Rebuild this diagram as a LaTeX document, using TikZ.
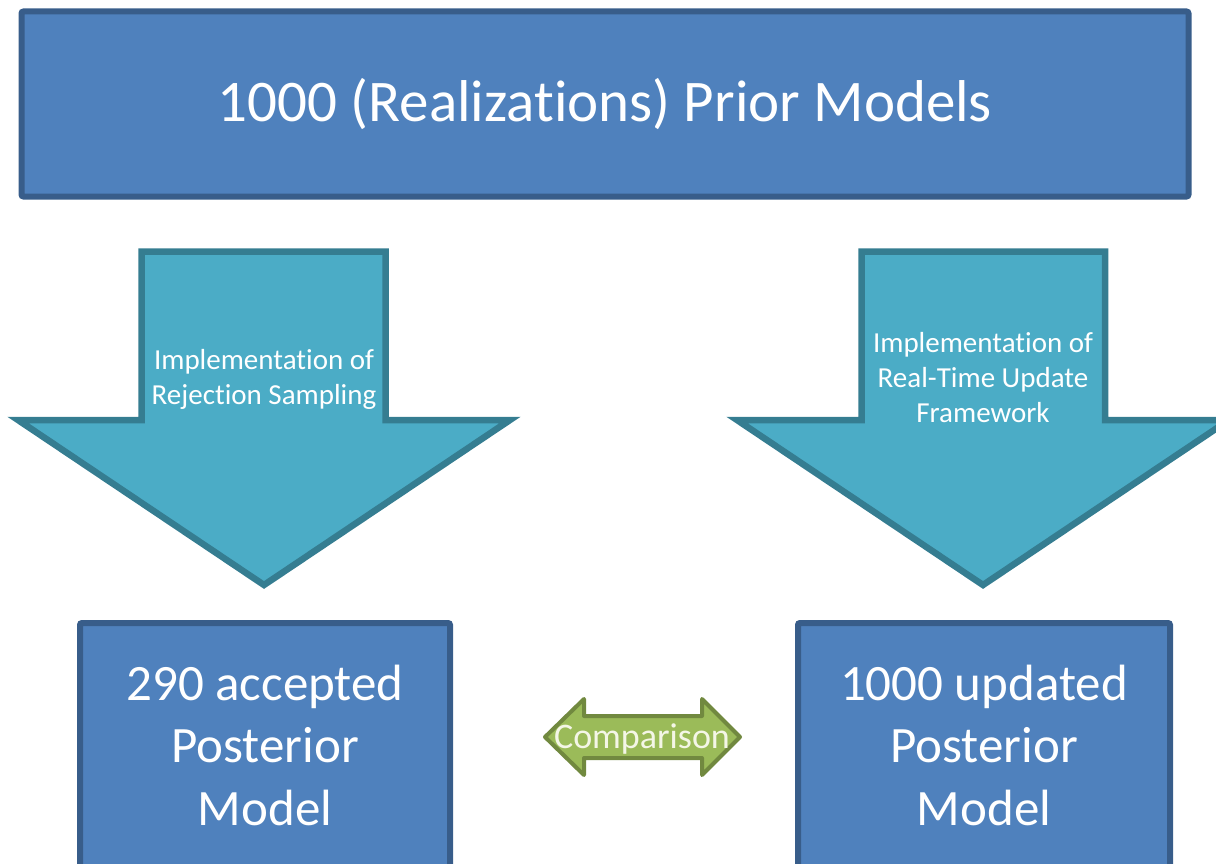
\documentclass[tikz,border=0pt]{standalone}
\usepackage{fontspec}
\setmainfont{Carlito}[Ligatures={NoCommon,NoRare,NoContextual}]
\definecolor{boxfill}{HTML}{4F81BD}
\definecolor{boxline}{HTML}{385D8A}
\definecolor{arrfill}{HTML}{4BACC6}
\definecolor{arrline}{HTML}{357D91}
\definecolor{grfill}{HTML}{9BBB59}
\definecolor{grline}{HTML}{71893F}
\definecolor{cmptext}{HTML}{F4F6E6}
\newcommand\myti{t\kern0pt i}
\tikzset{
  bluebox/.style={draw=boxline, fill=boxfill, line width=6pt, rounded corners=2pt},
  bigarrow/.style={draw=arrline, fill=arrfill, line width=6.5pt, line join=miter},
  grarrow/.style={draw=grline, fill=grfill, line width=4pt, line join=round},
  toptext/.style={text=white, font=\fontsize{59}{70}\selectfont, inner sep=0pt},
  boxtext/.style={text=white, font=\fontsize{51}{62.5}\selectfont, align=center, inner sep=0pt},
  arrtext/.style={text=white, font=\fontsize{29}{35}\selectfont, align=center, inner sep=0pt},
  cmptxt/.style={text=cmptext, font=\fontsize{36}{40}\selectfont, inner sep=0pt}
}
\begin{document}
\begin{tikzpicture}[x=1pt,y=-1pt]
\useasboundingbox (0,0) rectangle (1216,864);
\clip (0,0) rectangle (1216,864);
% top box
\node[bluebox, minimum width=1167pt, minimum height=185pt, inner sep=0pt] (top) at (605,104) {};
\node[toptext] (toptxt) at (605,104) {1000 (Realiza\myti ons) Prior Models};
% left arrow
\draw[bigarrow] (141.5,251.5) -- (385.5,251.5) -- (385.5,420) -- (510,420) -- (264,585) -- (18,420) -- (141.5,420) -- cycle;
\node[arrtext] (ltxt) at (264,379) {Implementa\myti on of\\Rejec\myti on Sampling};
% right arrow
\draw[bigarrow] (861.5,251.5) -- (1105,251.5) -- (1105,420) -- (1229,420) -- (983,585) -- (737,420) -- (861.5,420) -- cycle;
\node[arrtext] (rtxt) at (983,378) {Implementa\myti on of\\Real-Time Update\\Framework};
% bottom boxes
\draw[bluebox] (80,623) rectangle (450,900);
\node[boxtext] (lbox) at (265,745) {290 accepted\\Posterior\\Model};
\draw[bluebox] (798,623) rectangle (1170,900);
\node[boxtext] (rbox) at (984,745) {1000 updated\\Posterior\\Model};
% comparison arrow
\draw[grarrow] (545,737) -- (584,699) -- (584,716) -- (702,716) -- (702,699) -- (740,737) -- (702,775) -- (702,758) -- (584,758) -- (584,775) -- cycle;
\node[cmptxt] (cmp) at (642,739) {Comparison};
\end{tikzpicture}
\end{document}
